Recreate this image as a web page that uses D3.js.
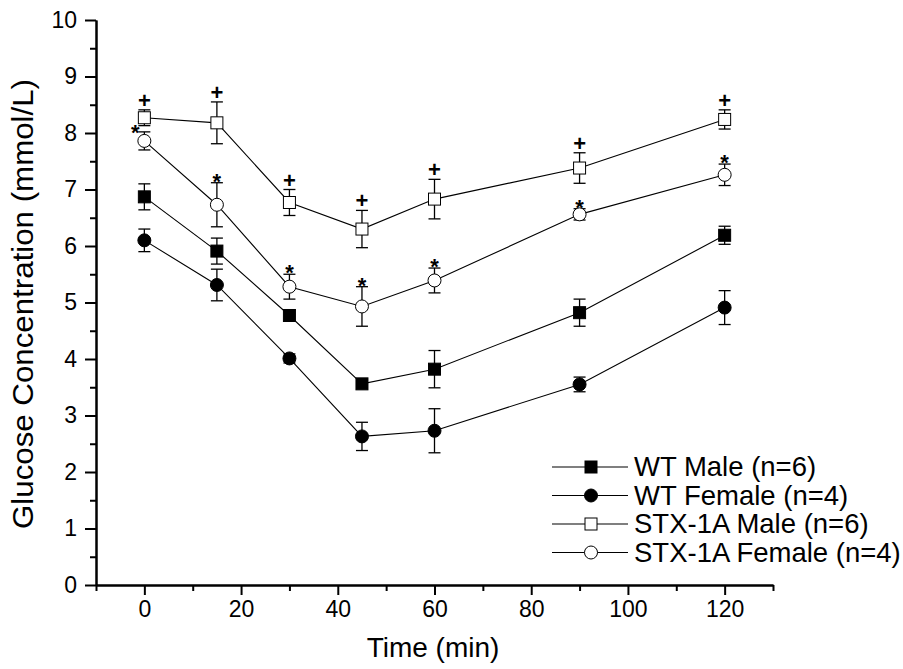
<!DOCTYPE html>
<html>
<head>
<meta charset="utf-8">
<script src="https://cdn.jsdelivr.net/npm/d3@7"></script>
<style>
  body { margin: 0; background: #fff; }
  svg { font-family: "Liberation Sans", Arial, sans-serif; }
</style>
</head>
<body>
<svg class="chart" width="903" height="669"></svg>
<script>
// Values (mean and SEM, mmol/L)
const times = [0, 15, 30, 45, 60, 90, 120]
const wtMale = [6.87, 5.91, 4.77, 3.56, 3.82, 4.82, 6.19]
const wtMaleErr = [0.23, 0.23, 0.1, 0.07, 0.33, 0.24, 0.16]
const wtFemale = [6.1, 5.31, 4.01, 2.63, 2.73, 3.55, 4.91]
const wtFemaleErr = [0.2, 0.28, 0.08, 0.25, 0.39, 0.13, 0.3]
const stxMale = [8.27, 8.18, 6.77, 6.3, 6.83, 7.38, 8.24]
const stxMaleErr = [0.14, 0.37, 0.23, 0.33, 0.35, 0.27, 0.17]
const stxFemale = [7.86, 6.73, 5.28, 4.93, 5.39, 6.56, 7.26]
const stxFemaleErr = [0.16, 0.39, 0.22, 0.35, 0.22, 0.1, 0.19]

const xTicks = [0, 20, 40, 60, 80, 100, 120]
const yTicks = [0, 1, 2, 3, 4, 5, 6, 7, 8, 9, 10]

const series = [
	{ name: 'WT Male (n=6)', values: wtMale, err: wtMaleErr, shape: 'square', fill: '#000' },
	{ name: 'WT Female (n=4)', values: wtFemale, err: wtFemaleErr, shape: 'circle', fill: '#000' },
	{ name: 'STX-1A Male (n=6)', values: stxMale, err: stxMaleErr, shape: 'square', fill: '#fff', mark: '+' },
	{ name: 'STX-1A Female (n=4)', values: stxFemale, err: stxFemaleErr, shape: 'circle', fill: '#fff', mark: '*' },
]

const svg = d3.select('svg.chart')

const x = d3.scaleLinear().domain([-10, 130]).range([96, 773])
const y = d3.scaleLinear().domain([0, 10]).range([585, 20])

// axes
const xAxis = svg.append('g').attr('transform', `translate(0,${y(0)})`)
xAxis.call(d3.axisBottom(x).tickValues(xTicks).tickSize(10).tickPadding(6).tickSizeOuter(0))
xAxis.append('g').call(d3.axisBottom(x).tickValues(d3.range(-10, 131, 20)).tickSize(6).tickFormat('').tickSizeOuter(0))

const yAxis = svg.append('g').attr('transform', `translate(${x(-10)},0)`)
yAxis.call(d3.axisLeft(y).tickValues(yTicks).tickSize(11).tickPadding(8).tickSizeOuter(0))
yAxis.append('g').call(d3.axisLeft(y).tickValues(d3.range(0.5, 10, 1)).tickSize(6).tickFormat('').tickSizeOuter(0))

svg.selectAll('.domain').attr('stroke', '#000').attr('stroke-width', 2)
svg.selectAll('.tick line').attr('stroke', '#000').attr('stroke-width', 2)
svg.selectAll('.tick text')
	.style('font-size', '23px').style('font-family', '"Liberation Sans", Arial, sans-serif')
	.attr('fill', '#000')

svg.append('text')
	.attr('x', 433).attr('y', 657)
	.attr('text-anchor', 'middle')
	.attr('font-size', 28)
	.text('Time (min)')

svg.append('text')
	.attr('transform', `translate(33,304) rotate(-90)`)
	.attr('text-anchor', 'middle')
	.attr('font-size', 30)
	.attr('textLength', 450)
	.attr('lengthAdjust', 'spacingAndGlyphs')
	.text('Glucose Concentration (mmol/L)')

const line = d3.line().x(d => x(d[0])).y(d => y(d[1]))

function marker(g, shape, fill) {
	if (shape === 'square') {
		g.append('rect').attr('x', -6).attr('y', -6).attr('width', 12).attr('height', 12)
			.attr('fill', fill).attr('stroke', '#000').attr('stroke-width', 1)
	} else {
		g.append('circle').attr('r', 6.5)
			.attr('fill', fill).attr('stroke', '#000').attr('stroke-width', 1)
	}
}

series.forEach(s => {
	const pts = times.map((t, i) => [t, s.values[i], s.err[i]])
	const g = svg.append('g')

	g.append('path').attr('d', line(pts))
		.attr('fill', 'none').attr('stroke', '#000').attr('stroke-width', 1.1)

	const eb = g.selectAll('g.eb').data(pts).enter().append('g').attr('class', 'eb')
	eb.append('line')
		.attr('x1', d => x(d[0])).attr('x2', d => x(d[0]))
		.attr('y1', d => y(d[1] + d[2])).attr('y2', d => y(d[1] - d[2]))
		.attr('stroke', '#000').attr('stroke-width', 1.3)
	eb.append('line')
		.attr('x1', d => x(d[0]) - 6).attr('x2', d => x(d[0]) + 6)
		.attr('y1', d => y(d[1] + d[2])).attr('y2', d => y(d[1] + d[2]))
		.attr('stroke', '#000').attr('stroke-width', 1.3)
	eb.append('line')
		.attr('x1', d => x(d[0]) - 6).attr('x2', d => x(d[0]) + 6)
		.attr('y1', d => y(d[1] - d[2])).attr('y2', d => y(d[1] - d[2]))
		.attr('stroke', '#000').attr('stroke-width', 1.3)

	pts.forEach(d => {
		marker(g.append('g').attr('transform', `translate(${x(d[0])},${y(d[1])})`), s.shape, s.fill)
	})

	// significance marks above the error bars
	if (s.mark === '+') {
		g.selectAll('text.sig').data(pts).enter().append('text')
			.attr('x', d => x(d[0])).attr('y', d => y(d[1] + d[2]) - 2)
			.attr('text-anchor', 'middle').attr('font-size', 22).attr('font-weight', 'bold')
			.text('+')
	}
	if (s.mark === '*') {
		g.selectAll('text.sig').data(pts).enter().append('text')
			.attr('x', d => d[0] === 0 ? x(d[0]) - 9 : x(d[0]))
			.attr('y', d => y(d[1] + d[2]) + (d[0] === 0 ? 8 : 6))
			.attr('text-anchor', 'middle').attr('font-size', 22).attr('font-weight', 'bold')
			.text('*')
	}
})

// legend
const legend = svg.append('g')
series.forEach((s, i) => {
	const ly = 467 + i * 28.5
	const row = legend.append('g').attr('transform', `translate(0,${ly})`)
	row.append('line').attr('x1', 552).attr('x2', 628).attr('y1', 0).attr('y2', 0)
		.attr('stroke', '#000').attr('stroke-width', 1.1)
	marker(row.append('g').attr('transform', 'translate(591,0)'), s.shape, s.fill)
	row.append('text').attr('x', 634).attr('y', 9).attr('font-size', 27.5).text(s.name)
})
</script>
</body>
</html>
